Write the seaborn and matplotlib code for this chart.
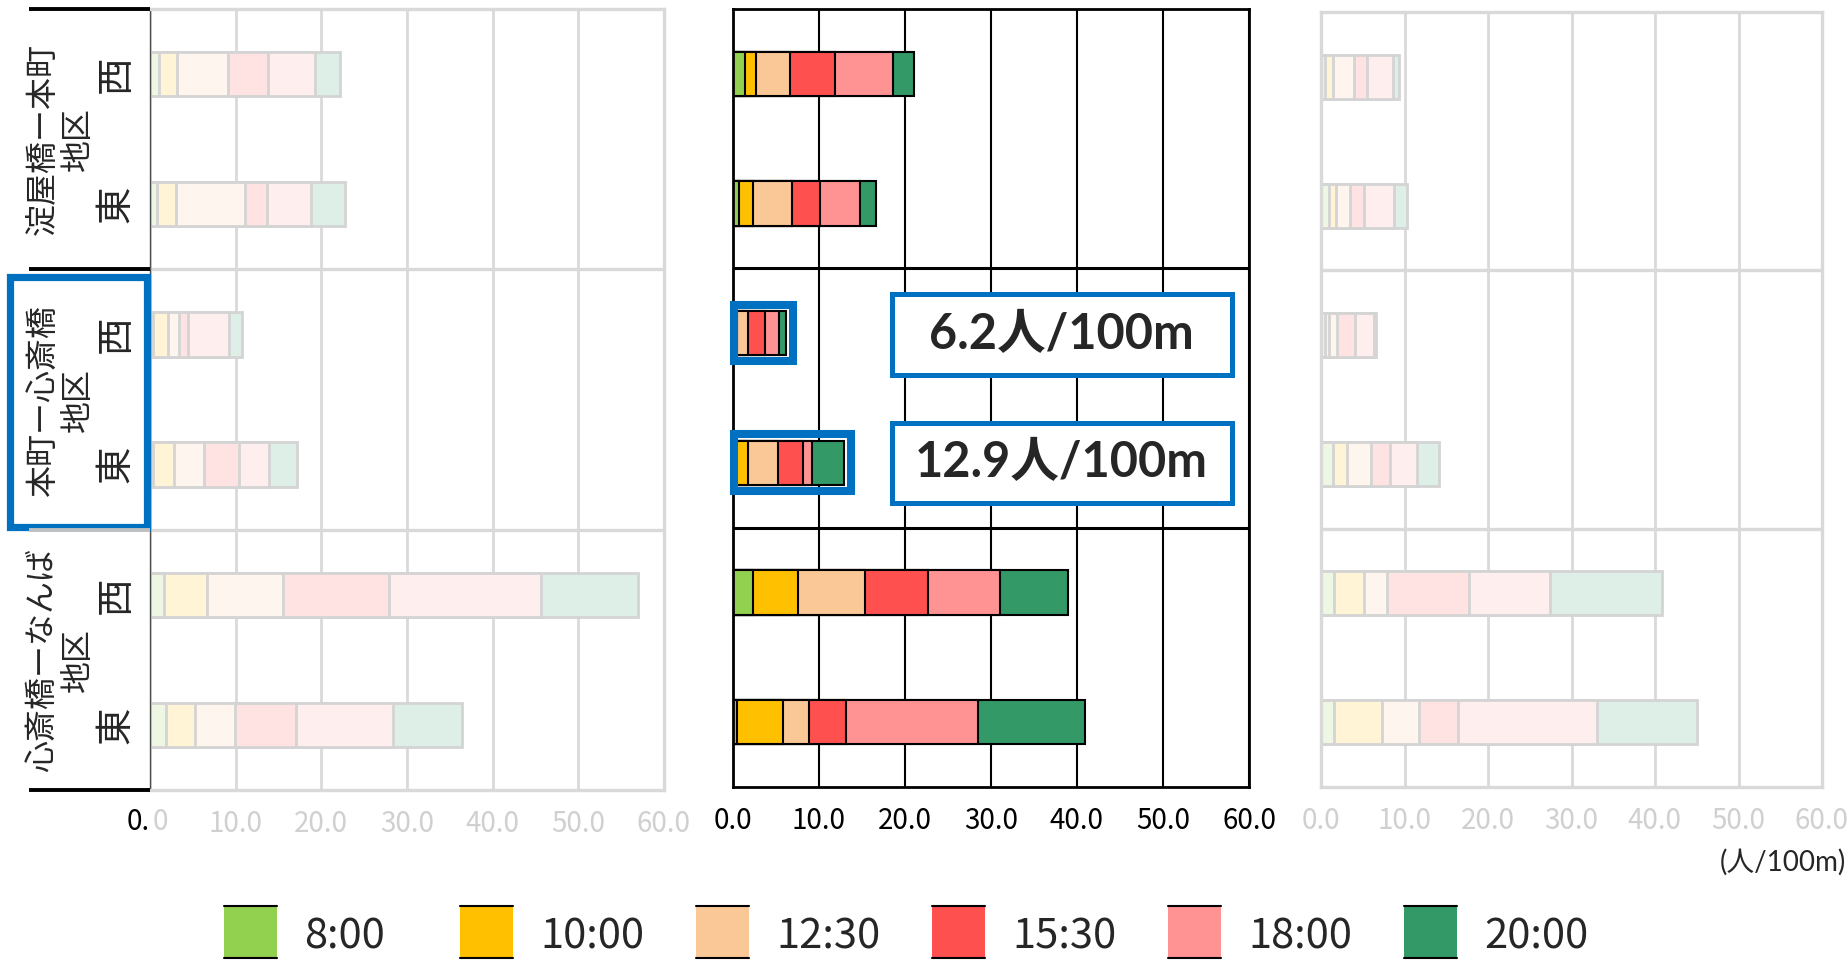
import numpy as np
import pandas as pd
import matplotlib
matplotlib.use("Agg")
import matplotlib.pyplot as plt
import matplotlib.transforms as mtransforms
from matplotlib.patches import Rectangle
from matplotlib.lines import Line2D
from matplotlib.colors import to_rgb
import seaborn as sns

# ---------------------------------------------------------------- data
hours = ["8:00", "10:00", "12:30", "15:30", "18:00", "20:00"]
hour_colors = ["#92D050", "#FFC000", "#FAC896", "#FF5050", "#FF9393", "#339966"]
districts = ["淀屋橋ー本町\n地区", "本町ー心斎橋\n地区", "心斎橋ーなんば\n地区"]
sides = ["西", "東"]
xticks = [0, 10, 20, 30, 40, 50, 60]
unit_label = "(人/100m)"

# pedestrians per 100 m; one row per (district, side), one column per hour
left_counts = [
    [1.0, 2.1, 6.0, 4.7, 5.5, 2.9],
    [0.8, 2.2, 8.1, 2.5, 5.2, 4.0],
    [0.3, 1.8, 1.3, 1.0, 4.8, 1.5],
    [0.4, 2.4, 3.5, 4.1, 3.5, 3.3],
    [1.6, 5.0, 8.9, 12.4, 17.7, 11.4],
    [1.9, 3.3, 4.7, 7.1, 11.4, 8.0],
]
center_counts = [
    [1.4, 1.3, 3.9, 5.3, 6.7, 2.4],
    [0.7, 1.6, 4.6, 3.2, 4.7, 1.8],
    [0.2, 0.3, 1.2, 2.0, 1.6, 0.9],
    [0.3, 1.5, 3.4, 2.9, 1.1, 3.7],
    [2.3, 5.3, 7.8, 7.3, 8.3, 7.9],
    [0.5, 5.3, 3.0, 4.3, 15.4, 12.4],
]
right_counts = [
    [0.5, 0.9, 2.6, 1.5, 3.1, 0.7],
    [0.9, 0.9, 1.7, 1.7, 3.6, 1.5],
    [0.5, 0.5, 0.9, 2.2, 2.2, 0.3],
    [1.4, 1.7, 2.9, 2.3, 3.2, 2.6],
    [1.6, 3.6, 2.7, 9.8, 9.7, 13.4],
    [1.6, 5.7, 4.4, 4.7, 16.7, 11.9],
]
# rows of the centre panel that get a highlighted total
highlight_rows = [2, 3]

row_keys = [f"{d.replace(chr(10), '')}・{s}" for d in districts for s in sides]

# ---------------------------------------------------------------- style
sns.set_theme(style="white")
plt.rcParams["font.family"] = ["Noto Sans CJK JP", "DejaVu Sans"]

W, H = 1848, 960
fig = plt.figure(figsize=(W / 100, H / 100), dpi=100)
BLUE = "#0070C0"
FADE_GRID = "#D9D9D9"
FADE_TEXT = "#D0D0D0"


def fx(x):
    return x / W


def fy(y):
    return 1 - y / H


def px_axes(x0, y0, x1, y1):
    return fig.add_axes([fx(x0), fy(y1), (x1 - x0) / W, (y1 - y0) / H])


def soften(c, a=0.16):
    r, g, b = to_rgb(c)
    return (1 - a + a * r, 1 - a + a * g, 1 - a + a * b)


def draw_panel(ax, counts, faded):
    arr = np.asarray(counts, dtype=float)
    cum = arr.cumsum(axis=1)
    edge = "#D4D4D4" if faded else "black"
    lw = 2.0 if faded else 1.5
    # stacked bars: draw cumulative totals from the longest down
    for k in range(len(hours) - 1, -1, -1):
        df = pd.DataFrame({"row": row_keys, "value": cum[:, k]})
        face = soften(hour_colors[k]) if faded else hour_colors[k]
        sns.barplot(data=df, x="value", y="row", order=row_keys, orient="h",
                    color=face, saturation=1, width=0.34, errorbar=None,
                    edgecolor=edge, linewidth=lw, ax=ax)
    ax.set_xlim(0, 60)
    ax.set_ylim(5.5, -0.5)
    ax.set_xticks(xticks)
    ax.set_xticklabels([f"{t:.1f}" for t in xticks])
    ax.set_yticks([])
    ax.set_xlabel("")
    ax.set_ylabel("")
    gc = FADE_GRID if faded else "black"
    ax.set_axisbelow(True)
    ax.xaxis.grid(True, color=gc, lw=2.0 if faded else 1.5)
    ax.yaxis.grid(False)
    for yv in (1.5, 3.5):
        ax.axhline(yv, color=gc, lw=2.4 if faded else 2.2, zorder=0.6)
    for sp in ax.spines.values():
        sp.set_visible(True)
        sp.set_color(gc)
        sp.set_linewidth(2.4 if faded else 2.0)
    ax.tick_params(axis="x", length=0, pad=14, labelsize=20,
                   labelcolor=FADE_TEXT if faded else "black")
    return cum


ax_l = px_axes(150, 9, 664, 790)
ax_c = px_axes(733, 9, 1249, 787)
ax_r = px_axes(1321, 12, 1822, 787)

draw_panel(ax_l, left_counts, True)
center_cum = draw_panel(ax_c, center_counts, False)
draw_panel(ax_r, right_counts, True)

# left panel: dark axis line beside the category labels, split "0.0" label
ax_l.spines["left"].set_color("#4D4D4D")
ax_l.spines["left"].set_linewidth(1.0)
lbls = [f"{t:.1f}" for t in xticks]
lbls[0] = ""
ax_l.set_xticklabels(lbls)
fig.text(fx(150), fy(822), "0.", ha="right", va="center", fontsize=20, color="black")
fig.text(fx(153), fy(822), "0", ha="left", va="center", fontsize=20, color=FADE_TEXT)

# ---------------------------------------------------------------- category labels
lab_tr = mtransforms.blended_transform_factory(fig.transFigure, ax_l.transData)
for gi, name in enumerate(districts):
    fig.text(fx(60), 2 * gi + 0.5, name, transform=lab_tr, rotation=90,
             ha="center", va="center", fontsize=23, linespacing=1.12,
             multialignment="center")
    for si, s in enumerate(sides):
        fig.text(fx(116), 2 * gi + si, s, transform=lab_tr, rotation=90,
                 ha="center", va="center", fontsize=27)

for yv, col in ((-0.5, "black"), (1.5, "black"), (3.5, "#BFBFBF"), (5.5, "black")):
    fig.add_artist(Line2D([fx(29), fx(150)], [yv, yv], transform=lab_tr,
                          color=col, lw=2.8, solid_capstyle="butt"))

# highlighted district label on the left
fig.add_artist(Rectangle((fx(9.5), fy(526.5)), (137) / W, (250) / H,
                         transform=fig.transFigure, fill=False,
                         edgecolor=BLUE, lw=5.2))

# ---------------------------------------------------------------- highlights in centre panel
bar_boxes = {2: (0.15, 7.0, 0.215), 3: (0.15, 13.7, 0.22)}
text_boxes = {2: (1.70, 2.32), 3: (2.69, 3.31)}
for r in highlight_rows:
    x0, x1, hh = bar_boxes[r]
    ax_c.add_patch(Rectangle((x0, r - hh), x1 - x0, 2 * hh, fill=False,
                             edgecolor=BLUE, lw=5.8, zorder=5, clip_on=False))
    y0, y1 = text_boxes[r]
    ax_c.add_patch(Rectangle((18.45, y0), 39.6, y1 - y0, facecolor="white",
                             edgecolor=BLUE, lw=3.6, zorder=5))
    total = center_cum[r, -1]
    ax_c.text(38.2, (y0 + y1) / 2, f"{total:.1f}人/100m", ha="center",
              va="center", fontsize=35, fontweight="bold", zorder=6,
              family=["Lato", "Noto Sans CJK JP", "DejaVu Sans"])

# ---------------------------------------------------------------- unit & legend
fig.text(fx(1846), fy(862), unit_label, ha="right", va="center", fontsize=20,
         family=["Lato", "Noto Sans CJK JP", "DejaVu Sans"])

for i, (h, c) in enumerate(zip(hours, hour_colors)):
    x0 = 224 + 236 * i
    fig.add_artist(Rectangle((fx(x0), fy(958)), 53 / W, 52 / H,
                             transform=fig.transFigure, facecolor=c,
                             edgecolor="none"))
    for yy in (906, 958):
        fig.add_artist(Line2D([fx(x0), fx(x0 + 53)], [fy(yy), fy(yy)],
                              transform=fig.transFigure, color="black", lw=1.5))
    fig.text(fx(x0 + 80), fy(937), h, ha="left", va="center", fontsize=30)

fig.savefig("out.png", dpi=100)
